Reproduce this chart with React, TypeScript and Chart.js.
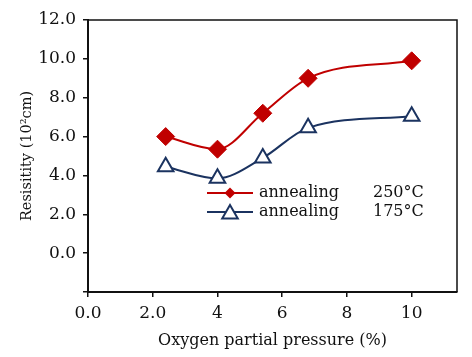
import React, { useEffect, useRef } from "react";
import { Chart, registerables } from "chart.js";

Chart.register(...registerables);

const pressure = [2.4, 4.0, 5.4, 6.8, 10.0];
const res250 = [6.0, 5.35, 7.2, 9.0, 9.9];
const res175 = [4.45, 3.85, 4.9, 6.45, 7.05];
const xTickLabels: Record<number, string> = { 0: "0.0", 2: "2.0", 4: "4", 6: "6", 8: "8", 10: "10" };
const legendLabels = ["annealing", "annealing"];
const legendTemps = ["250°C", "175°C"];

const RED = "#C00000";
const NAVY = "#1B3360";
const INK = "#111111";
const FONT = "'DejaVu Serif', serif";

export default function App() {
  const ref = useRef<HTMLCanvasElement | null>(null);

  useEffect(() => {
    document.body.style.margin = "0";
    const canvas = ref.current;
    if (!canvas) return;

    const framePlugin = {
      id: "frame",
      afterDraw(chart: any) {
        const { ctx, chartArea } = chart;
        ctx.save();
        ctx.strokeStyle = INK;
        ctx.lineWidth = 1.5;
        ctx.beginPath();
        ctx.moveTo(chartArea.left, chartArea.top);
        ctx.lineTo(chartArea.right, chartArea.top);
        ctx.lineTo(chartArea.right, chartArea.bottom);
        ctx.stroke();
        ctx.restore();
      },
    };

    const legendPlugin = {
      id: "insideLegend",
      afterDraw(chart: any) {
        const { ctx, chartArea } = chart;
        const x1 = chartArea.left + 119;
        const x2 = chartArea.left + 165;
        const rows = [chartArea.top + 173, chartArea.top + 192];
        ctx.save();
        chart.data.datasets.forEach((ds: any, i: number) => {
          const y = rows[i];
          ctx.strokeStyle = ds.borderColor;
          ctx.lineWidth = 2;
          ctx.beginPath();
          ctx.moveTo(x1, y);
          ctx.lineTo(x2, y);
          ctx.stroke();
          const cx = (x1 + x2) / 2;
          ctx.beginPath();
          if (ds.pointStyle === "rectRot") {
            const r = 5.5;
            ctx.moveTo(cx - r, y);
            ctx.lineTo(cx, y - r);
            ctx.lineTo(cx + r, y);
            ctx.lineTo(cx, y + r);
            ctx.closePath();
            ctx.fillStyle = ds.pointBackgroundColor;
            ctx.fill();
          } else {
            const r = 9;
            ctx.moveTo(cx, y - r + 2);
            ctx.lineTo(cx + r * 0.866, y + r * 0.5 + 2);
            ctx.lineTo(cx - r * 0.866, y + r * 0.5 + 2);
            ctx.closePath();
            ctx.fillStyle = "#ffffff";
            ctx.fill();
            ctx.lineWidth = 2;
            ctx.strokeStyle = ds.pointBorderColor;
            ctx.stroke();
          }
          ctx.fillStyle = INK;
          ctx.font = `16px ${FONT}`;
          ctx.textBaseline = "middle";
          ctx.textAlign = "left";
          ctx.fillText(legendLabels[i], x2 + 6, y);
          ctx.fillText(legendTemps[i], x2 + 120, y);
        });
        ctx.restore();
      },
    };

    const chart = new Chart(canvas, {
      type: "line",
      data: {
        datasets: [
          {
            label: `${legendLabels[0]} ${legendTemps[0]}`,
            data: pressure.map((x, i) => ({ x, y: res250[i] })),
            borderColor: RED,
            backgroundColor: RED,
            borderWidth: 2,
            pointStyle: "rectRot",
            pointRadius: 9,
            pointBackgroundColor: RED,
            pointBorderColor: RED,
            pointBorderWidth: 1,
            cubicInterpolationMode: "monotone",
          },
          {
            label: `${legendLabels[1]} ${legendTemps[1]}`,
            data: pressure.map((x, i) => ({ x, y: res175[i] })),
            borderColor: NAVY,
            backgroundColor: "#ffffff",
            borderWidth: 2,
            pointStyle: "triangle",
            pointRadius: 9,
            pointBackgroundColor: "#ffffff",
            pointBorderColor: NAVY,
            pointBorderWidth: 2,
            cubicInterpolationMode: "monotone",
          },
        ],
      },
      options: {
        responsive: false,
        animation: false,
        devicePixelRatio: 1,
        layout: { padding: { top: 20, right: 15, left: 0, bottom: 0 } },
        plugins: {
          legend: { display: false },
          tooltip: { enabled: false },
        },
        scales: {
          x: {
            type: "linear",
            min: 0,
            max: 11.4,
            afterFit(scale: any) {
              scale.height = 65;
            },
            border: { display: true, color: INK, width: 2 },
            grid: { drawOnChartArea: false, drawTicks: true, tickLength: 5, color: INK, lineWidth: 1.5 },
            ticks: {
              stepSize: 2,
              includeBounds: false,
              autoSkip: false,
              maxRotation: 0,
              padding: 6,
              color: INK,
              font: { family: FONT, size: 17 },
              callback: (v: any) => xTickLabels[Number(v)] ?? "",
            },
            title: {
              display: true,
              text: "Oxygen partial pressure (%)",
              color: INK,
              font: { family: FONT, size: 16 },
              padding: { top: 0, bottom: 7 },
            },
          },
          y: {
            type: "linear",
            min: -2,
            max: 12,
            afterFit(scale: any) {
              scale.width = 88;
            },
            border: { display: true, color: INK, width: 2 },
            grid: { drawOnChartArea: false, drawTicks: true, tickLength: 5, color: INK, lineWidth: 1.5 },
            ticks: {
              stepSize: 2,
              padding: 7,
              color: INK,
              font: { family: FONT, size: 17 },
              callback: (v: any) => (Number(v) < 0 ? "" : Number(v).toFixed(1)),
            },
            title: {
              display: true,
              text: "Resisitity (10²cm)",
              color: INK,
              font: { family: FONT, size: 14.5 },
              padding: { top: 19, bottom: 0 },
            },
          },
        },
      },
      plugins: [framePlugin, legendPlugin],
    } as any);

    return () => chart.destroy();
  }, []);

  return (
    <div style={{ width: 472, height: 357 }}>
      <canvas ref={ref} width={472} height={357} />
    </div>
  );
}
